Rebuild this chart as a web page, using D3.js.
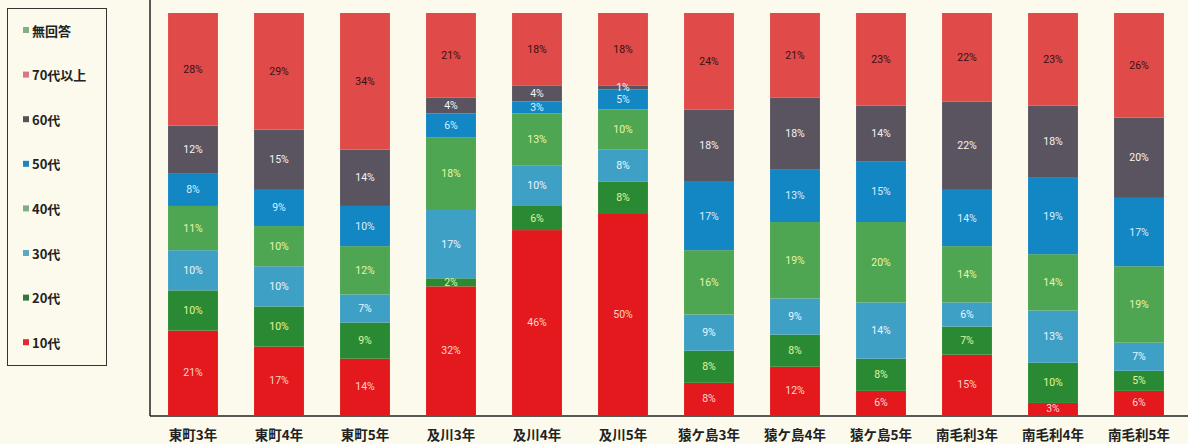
<!DOCTYPE html>
<html>
<head>
<meta charset="utf-8">
<script src="https://cdn.jsdelivr.net/npm/d3@7"></script>
<style>
  body { margin: 0; background: #fbfaec; }
  svg { display: block; }
  .cat { font-family: "Noto Sans CJK JP", sans-serif; font-weight: bold; font-size: 13.5px; fill: #222; }
  .lg { font-family: "Noto Sans CJK JP", sans-serif; font-weight: bold; font-size: 13px; fill: #222; }
  .val { font-family: "Liberation Sans Narrow", "Roboto", sans-serif; font-size: 10.5px; }
</style>
</head>
<body>
<div id="chart"></div>
<script>
// categories (schools / grades)
let categories = ["東町3年", "東町4年", "東町5年", "及川3年", "及川4年", "及川5年",
  "猿ケ島3年", "猿ケ島4年", "猿ケ島5年", "南毛利3年", "南毛利4年", "南毛利5年"];

// series, bottom to top (percent)
let s10 = [21, 17, 14, 32, 46, 50, 8, 12, 6, 15, 3, 6];
let s20 = [10, 10, 9, 2, 6, 8, 8, 8, 8, 7, 10, 5];
let s30 = [10, 10, 7, 17, 10, 8, 9, 9, 14, 6, 13, 7];
let s40 = [11, 10, 12, 18, 13, 10, 16, 19, 20, 14, 14, 19];
let s50 = [8, 9, 10, 6, 3, 5, 17, 13, 15, 14, 19, 17];
let s60 = [12, 15, 14, 4, 4, 1, 18, 18, 14, 22, 18, 20];
let s70 = [28, 29, 34, 21, 18, 18, 24, 21, 23, 22, 23, 26];
let sNone = [0, 0, 0, 0, 0, 0, 0, 0, 0, 0, 0, 0];

let seriesNames = ["10代", "20代", "30代", "40代", "50代", "60代", "70代以上", "無回答"];
let seriesValues = [s10, s20, s30, s40, s50, s60, s70, sNone];

let svgWidth = 1188;
let svgHeight = 444;

let colors = {
  "10代": "#e3191d",
  "20代": "#2a8a34",
  "30代": "#3fa0c6",
  "40代": "#4ea552",
  "50代": "#1386c4",
  "60代": "#5a5460",
  "70代以上": "#e04a48",
  "無回答": "#7fb27f"
};
let labelColors = {
  "10代": "#ffd6c8",
  "20代": "#e2f59a",
  "30代": "#eaf6ff",
  "40代": "#e8f7a8",
  "50代": "#d9f0ff",
  "60代": "#f4f4f4",
  "70代以上": "#3a1010",
  "無回答": "#222"
};
let legendColors = {
  "10代": "#e02a33",
  "20代": "#2f7a3a",
  "30代": "#5aa8c8",
  "40代": "#7fae86",
  "50代": "#1a86c8",
  "60代": "#555",
  "70代以上": "#e07482",
  "無回答": "#7fb07f"
};

let svg = d3.select("#chart")
  .append("svg")
  .attr("width", svgWidth)
  .attr("height", svgHeight);

// build rows for stacking
let table = categories.map((c, i) => {
  let row = { cat: c };
  seriesNames.forEach((n, k) => row[n] = seriesValues[k][i]);
  return row;
});

let stacked = d3.stack().keys(seriesNames)(table);

let x = d3.scaleBand()
  .domain(categories)
  .range([150, 1182])
  .paddingInner(0.42)
  .paddingOuter(0.21);

let y = d3.scaleLinear()
  .domain([0, 100])
  .range([415, 13]);

// bars
let layers = svg.selectAll("g.layer")
  .data(stacked)
  .enter()
  .append("g")
  .attr("class", "layer")
  .attr("fill", d => colors[d.key]);

layers.selectAll("rect")
  .data(d => d)
  .enter()
  .append("rect")
  .attr("x", d => x(d.data.cat))
  .attr("y", d => y(d[1]))
  .attr("width", x.bandwidth())
  .attr("height", d => y(d[0]) - y(d[1]));

// value labels
stacked.forEach(layer => {
  svg.append("g").selectAll("text")
    .data(layer.filter(d => d[1] - d[0] > 0))
    .enter()
    .append("text")
    .attr("class", "val")
    .attr("x", d => x(d.data.cat) + x.bandwidth() / 2)
    .attr("y", d => (y(d[0]) + y(d[1])) / 2 + 3.5)
    .attr("text-anchor", "middle")
    .attr("fill", labelColors[layer.key])
    .text(d => (d[1] - d[0]) + "%");
});

// axes lines
svg.append("line")
  .attr("x1", 150).attr("x2", 150)
  .attr("y1", 0).attr("y2", 416)
  .attr("stroke", "#222").attr("stroke-width", 1.5);
svg.append("line")
  .attr("x1", 150).attr("x2", svgWidth)
  .attr("y1", 416).attr("y2", 416)
  .attr("stroke", "#222").attr("stroke-width", 1.5);

// category labels
svg.append("g").selectAll("text")
  .data(categories)
  .enter()
  .append("text")
  .attr("class", "cat")
  .attr("x", d => x(d) + x.bandwidth() / 2)
  .attr("y", 440)
  .attr("text-anchor", "middle")
  .text(d => d);

// legend
svg.append("rect")
  .attr("x", 7.5).attr("y", 8.5)
  .attr("width", 99).attr("height", 357)
  .attr("fill", "none")
  .attr("stroke", "#333");

let legendOrder = seriesNames.slice().reverse();
let legend = svg.append("g").selectAll("g")
  .data(legendOrder)
  .enter()
  .append("g")
  .attr("transform", (d, i) => `translate(23, ${31 + i * 44.6})`);

legend.append("rect")
  .attr("x", 0).attr("y", -4)
  .attr("width", 6).attr("height", 6)
  .attr("fill", d => legendColors[d]);

legend.append("text")
  .attr("class", "lg")
  .attr("x", 9)
  .attr("y", 4.5)
  .text(d => d);
</script>
</body>
</html>
